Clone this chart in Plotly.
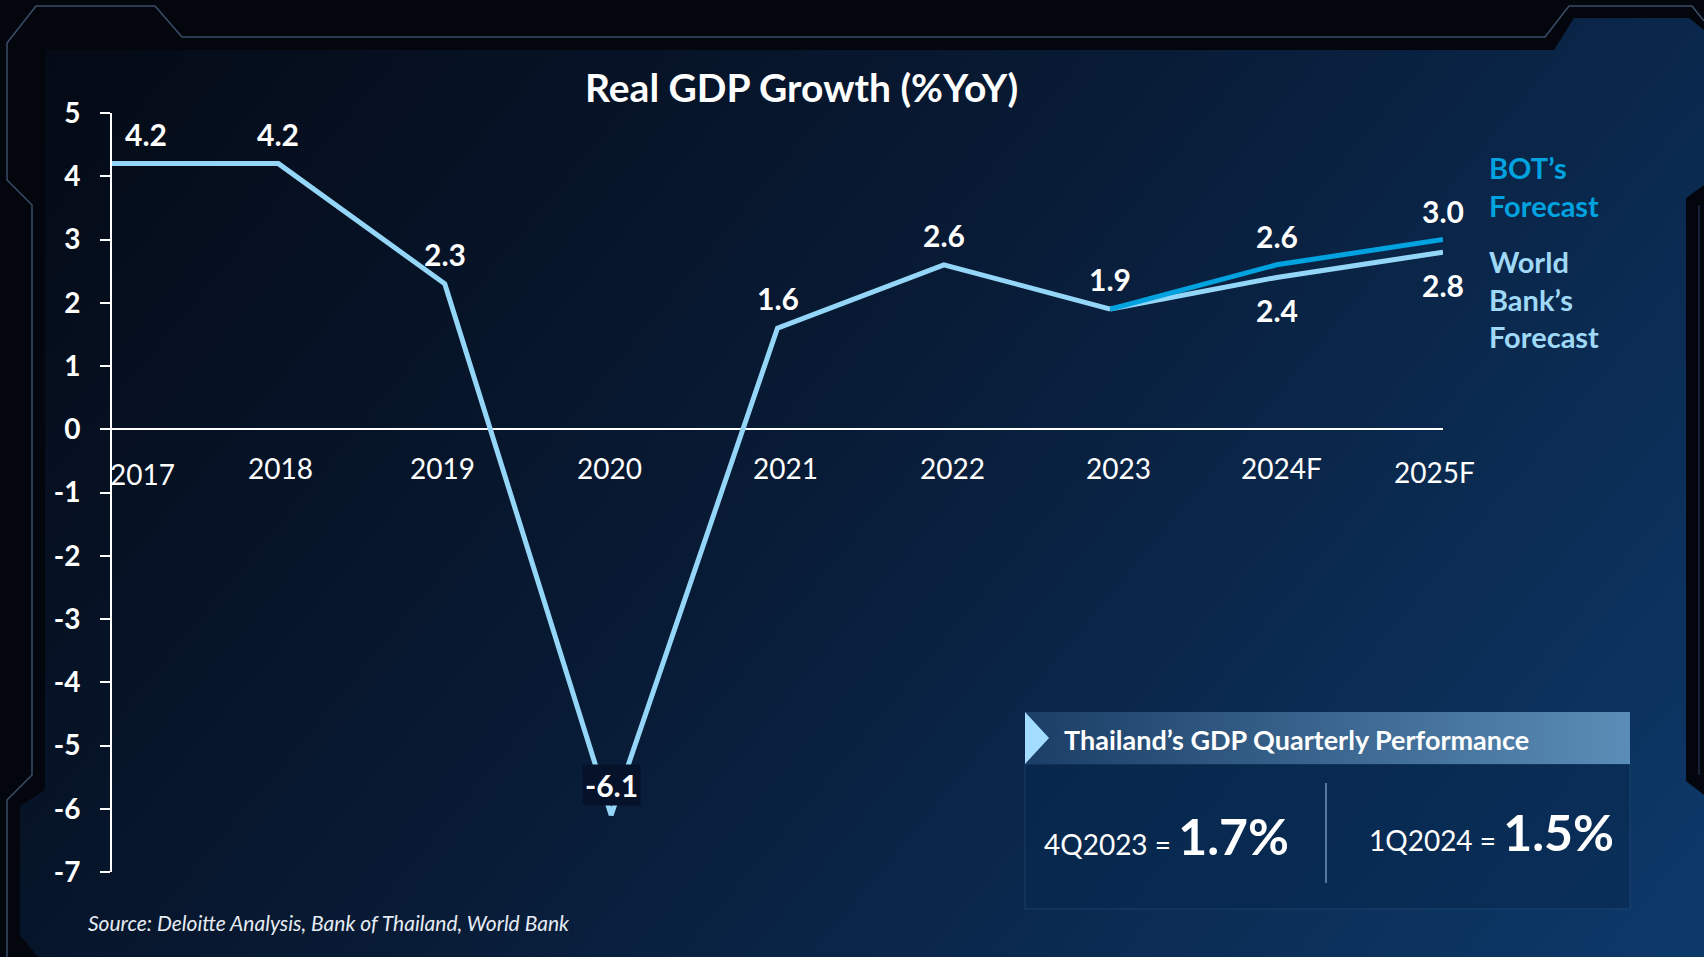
import base64
import plotly.graph_objects as go

# ---- data -------------------------------------------------------------
years = ["2017", "2018", "2019", "2020", "2021", "2022", "2023", "2024F", "2025F"]
actual_years = ["2017", "2018", "2019", "2020", "2021", "2022", "2023"]
actual_growth = [4.2, 4.2, 2.3, -6.1, 1.6, 2.6, 1.9]
forecast_years = ["2023", "2024F", "2025F"]
bot_forecast = [1.9, 2.6, 3.0]
wb_forecast = [1.9, 2.4, 2.8]
y_ticks = [-7, -6, -5, -4, -3, -2, -1, 0, 1, 2, 3, 4, 5]
quarter_labels = ["4Q2023", "1Q2024"]
quarter_growth = [1.7, 1.5]

# ---- page geometry (pixels) ------------------------------------------
W, H = 1704, 957
FONT = "Lato"
LIGHT = "#94d6f8"
BOT_BLUE = "#00a2df"


def px(x):
    return x / W


def py(y):
    return 1 - y / H


def cat(name):
    # position of a category on the x axis (category axes use indices)
    return years.index(name)


# background: dark page, gradient panel, thin frame and the quarterly box
svg = f"""<svg xmlns='http://www.w3.org/2000/svg' width='{W}' height='{H}' viewBox='0 0 {W} {H}'>
<defs>
<linearGradient id='pg' gradientUnits='userSpaceOnUse' x1='0' y1='0' x2='1500' y2='1250'>
<stop offset='0' stop-color='#040913'/>
<stop offset='0.45' stop-color='#081a34'/>
<stop offset='1' stop-color='#0d3a6c'/>
</linearGradient>
<linearGradient id='hb' x1='0' y1='0' x2='1' y2='0'>
<stop offset='0' stop-color='#1b3e66'/>
<stop offset='1' stop-color='#5a8db7'/>
</linearGradient>
</defs>
<rect width='{W}' height='{H}' fill='#03060d'/>
<polygon points='45,50 1554,50 1574,18 1689,18 1704,30 1704,185 1686,198 1686,781 1704,795 1704,957 38,957 20,935 20,806 45,790' fill='url(#pg)'/>
<polyline points='7,957 7,800 32,775 32,205 7,180 7,43 36,6 155,6 182,37 1545,37 1569,6 1692,6 1704,21' fill='none' stroke='#3b4e68' stroke-width='1.5'/>
<polyline points='1699,205 1699,775' fill='none' stroke='#1c2c44' stroke-width='1.5'/>
<rect x='1025' y='764' width='605' height='145' fill='#07284f' fill-opacity='0.55' stroke='#2b5580' stroke-opacity='0.5' stroke-width='1'/>
<rect x='1025' y='712' width='605' height='52' fill='url(#hb)'/>
<polygon points='1025,712 1049,738 1025,764' fill='#a2ddff'/>
<line x1='1326' y1='783' x2='1326' y2='883' stroke='#6f93b8' stroke-width='1.5'/>
</svg>"""
bg_uri = "data:image/svg+xml;base64," + base64.b64encode(svg.encode()).decode()

fig = go.Figure()

fig.add_trace(go.Scatter(x=actual_years, y=actual_growth, mode="lines",
                         line=dict(color=LIGHT, width=5), hoverinfo="skip"))
fig.add_trace(go.Scatter(x=forecast_years, y=wb_forecast, mode="lines",
                         line=dict(color=LIGHT, width=5), hoverinfo="skip"))
fig.add_trace(go.Scatter(x=forecast_years, y=bot_forecast, mode="lines",
                         line=dict(color=BOT_BLUE, width=5), hoverinfo="skip"))

ann = []
label_font = dict(family=FONT, size=30, color="white", weight="bold")

# value labels on the actual series
for i, (yr, v) in enumerate(zip(actual_years, actual_growth)):
    a = dict(x=cat(yr), y=v, xref="x", yref="y", text=f"{v:.1f}", showarrow=False,
             yshift=30, font=label_font)
    if i == 0:
        a["xshift"] = 34
    if v < 0:
        a["bgcolor"] = "#06122a"
        a["borderpad"] = 2
    ann.append(a)

# forecast labels (BOT above, World Bank below)
for yr, v in zip(forecast_years[1:], bot_forecast[1:]):
    ann.append(dict(x=cat(yr), y=v, xref="x", yref="y", text=f"{v:.1f}", showarrow=False,
                    yshift=29, font=label_font))
for yr, v in zip(forecast_years[1:], wb_forecast[1:]):
    ann.append(dict(x=cat(yr), y=v, xref="x", yref="y", text=f"{v:.1f}", showarrow=False,
                    yshift=-33, font=label_font))

# category labels sitting just under the zero line
cat_dx = [0, 2, -2, -2, 8, 9, 8, 5, -9]
cat_dy = [-45, -39, -39, -39, -39, -39, -39, -39, -43]
for i, yr in enumerate(years):
    a = dict(x=i, y=0, xref="x", yref="y", text=yr, showarrow=False,
             yshift=cat_dy[i], xshift=cat_dx[i],
             font=dict(family=FONT, size=28, color="white"))
    if i == 0:
        a["xanchor"] = "left"
        a["xshift"] = -4
    ann.append(a)

# title
ann.append(dict(x=px(801), y=py(87), xref="paper", yref="paper", showarrow=False,
                text="Real GDP Growth (%YoY)", xanchor="center", yanchor="middle",
                font=dict(family=FONT, size=39, color="white", weight="bold")))

# series labels at the right
ann.append(dict(x=px(1487), y=py(187), xref="paper", yref="paper", showarrow=False,
                text="BOT’s<br>Forecast", xanchor="left", yanchor="middle", align="left",
                font=dict(family=FONT, size=29, color=BOT_BLUE, weight="bold")))
ann.append(dict(x=px(1487), y=py(299), xref="paper", yref="paper", showarrow=False,
                text="World<br>Bank’s<br>Forecast", xanchor="left", yanchor="middle", align="left",
                font=dict(family=FONT, size=29, color="#9fd9f7", weight="bold")))

# quarterly panel
ann.append(dict(x=px(1062), y=py(739), xref="paper", yref="paper", showarrow=False,
                text="Thailand’s GDP Quarterly Performance", xanchor="left", yanchor="middle",
                font=dict(family=FONT, size=27, color="white", weight="bold")))
q_left = [1042, 1367]
q_mid = [836, 832]
for lbl, v, xl, ym in zip(quarter_labels, quarter_growth, q_left, q_mid):
    ann.append(dict(x=px(xl), y=py(ym), xref="paper", yref="paper", showarrow=False,
                    text=f"{lbl} = <span style='font-size:50px;font-weight:bold'>{v:.1f}%</span>",
                    xanchor="left", yanchor="middle",
                    font=dict(family=FONT, size=28, color="white")))

# source note
ann.append(dict(x=px(86), y=py(922), xref="paper", yref="paper", showarrow=False,
                text="Source: Deloitte Analysis, Bank of Thailand, World Bank",
                xanchor="left", yanchor="middle",
                font=dict(family=FONT, size=21, color="#e6ecf3", style="italic")))

fig.update_layout(
    template="none",
    width=W, height=H,
    margin=dict(l=0, r=0, t=0, b=0, pad=0, autoexpand=False),
    paper_bgcolor="#03060d",
    plot_bgcolor="rgba(0,0,0,0)",
    showlegend=False,
    annotations=ann,
    images=[dict(source=bg_uri, xref="paper", yref="paper", x=0, y=1,
                 sizex=1, sizey=1, xanchor="left", yanchor="top",
                 sizing="stretch", layer="below")],
    xaxis=dict(type="category", categoryorder="array", categoryarray=years,
               range=[0, 8], domain=[px(112), px(1443)], automargin=False,
               showticklabels=False, showgrid=False, zeroline=False, showline=False,
               ticks="", fixedrange=True),
    yaxis=dict(range=[-7, 5], domain=[py(872), py(113)], automargin=False,
               tickvals=y_ticks, ticktext=[str(v) for v in y_ticks],
               ticks="outside", ticklen=10, tickwidth=2, tickcolor="white",
               showline=True, linecolor="white", linewidth=2,
               showgrid=False, zeroline=True, zerolinecolor="white", zerolinewidth=2,
               ticklabelstandoff=14,
               tickfont=dict(family=FONT, size=28, color="white", weight="bold"),
               fixedrange=True),
)

fig.write_html("out.html", config={"displayModeBar": False},
               post_script="document.body.style.margin='0';")
